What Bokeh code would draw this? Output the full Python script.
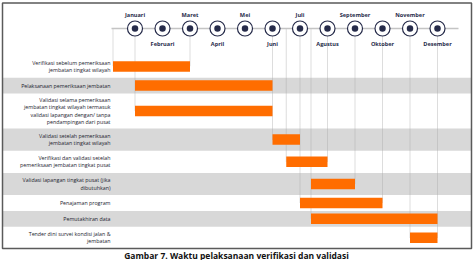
from bokeh.plotting import figure
from bokeh.models import Range1d
from bokeh.core.properties import value
from bokeh.embed import file_html
from bokeh.resources import INLINE

# ---------------- data ----------------
months = ["Januari", "Februari", "Maret", "April", "Mei", "Juni",
          "Juli", "Agustus", "September", "Oktober", "November", "Desember"]
activities = [
    "Verifikasi sebelum pemeriksaan\njembatan tingkat wilayah",
    "Pelaksanaan pemeriksaan jembatan",
    "Validasi selama pemeriksaan\njembatan tingkat wilayah termasuk\nvalidasi lapangan dengan/ tanpa\npendampingan dari pusat",
    "Validasi setelah pemeriksaan\njembatan tingkat wilayah",
    "Verifikasi dan validasi setelah\npemeriksaan jembatan tingkat pusat",
    "Validasi lapangan tingkat pusat (jika\ndibutuhkan)",
    "Penajaman program",
    "Pemutakhiran data",
    "Tender dini survei kondisi jalan &\njembatan",
]
start_month = [0.2, 1, 1, 6, 6.5, 7.4, 7, 7.4, 11]
end_month = [3, 6, 6, 7, 8, 9, 10, 12, 12]
caption = "Gambar 7. Waktu pelaksanaan verifikasi dan validasi"

# ---------------- layout ----------------
W, H = 474, 260
JAN_PX, STEP = 134.5, 27.5
x0 = 1 - JAN_PX / STEP
x1 = x0 + W / STEP


def px(xp):
    return x0 + xp / STEP


TIMELINE_Y = 28
ROWS_TOP = 55
LINE_H = 6.4
BAR_H = 10.5
ORANGE = "#ff6d00"
NAVY = "#262b4a"
BAND = "#d8d8d8"

p = figure(width=W, height=H, output_backend="svg", toolbar_location=None,
           x_range=Range1d(x0, x1), y_range=Range1d(H, 0),
           min_border=0, min_border_left=0, min_border_right=0,
           min_border_top=0, min_border_bottom=0)
p.axis.visible = False
p.grid.visible = False
p.outline_line_color = None
p.background_fill_color = "white"
p.border_fill_color = "white"

# row geometry from number of label lines
lines = [a.split("\n") for a in activities]
tops, bottoms, centers = [], [], []
y = ROWS_TOP
for ls in lines:
    h = 9.4 + LINE_H * len(ls)
    tops.append(y)
    bottoms.append(y + h)
    centers.append(y + h / 2)
    y += h

# alternating grey bands
bi = [i for i in range(len(activities)) if i % 2 == 1]
p.quad(left=[px(2)] * len(bi), right=[px(471)] * len(bi),
       top=[tops[i] for i in bi], bottom=[bottoms[i] for i in bi],
       fill_color=BAND, line_color=None)

# dotted guide lines from timeline down to the lowest bar using each boundary
deepest = {}
for i, (s, e) in enumerate(zip(start_month, end_month)):
    for b in (s, e):
        deepest[b] = max(deepest.get(b, -1), i)
gx = list(deepest.keys())
gy = [centers[deepest[b]] for b in gx]
p.segment(x0=gx, y0=[TIMELINE_Y] * len(gx), x1=gx, y1=gy,
          line_color="#a8a8a8", line_width=0.8, line_dash="1 1")

# timeline
p.line(x=[px(111), px(458)], y=[TIMELINE_Y, TIMELINE_Y],
       line_color="#c4c4c4", line_width=1.5)
mx = list(range(1, 13))
p.scatter(x=mx, y=[TIMELINE_Y] * 12, size=15, fill_color="white",
          line_color=NAVY, line_width=1.2)
p.scatter(x=mx, y=[TIMELINE_Y] * 12, size=6.5, fill_color=NAVY, line_color=None)

# month labels (alternating above/below)
p.text(x=mx[0::2], y=[TIMELINE_Y - 14] * 6, text=months[0::2],
       text_font=value("Open Sans"), text_font_style="bold",
       text_font_size="5.6px", text_color=NAVY,
       text_align="center", text_baseline="middle")
p.text(x=mx[1::2], y=[TIMELINE_Y + 15] * 6, text=months[1::2],
       text_font=value("Open Sans"), text_font_style="bold",
       text_font_size="5.6px", text_color=NAVY,
       text_align="center", text_baseline="middle")

# bars
p.hbar(y=centers, left=start_month, right=end_month, height=BAR_H,
       fill_color=ORANGE, line_color=None)

# activity labels, right aligned
lx, ly, lt = [], [], []
for c, ls in zip(centers, lines):
    n = len(ls)
    for k, t in enumerate(ls):
        lx.append(px(110))
        ly.append(c + (k - (n - 1) / 2) * 7.2)
        lt.append(t)
p.text(x=lx, y=ly, text=lt, text_font=value("Open Sans"),
       text_font_size="5.3px", text_color="#22222e",
       text_align="right", text_baseline="middle")

# frame border
p.quad(left=[px(2)], right=[px(471)], top=[2.5], bottom=[248],
       fill_color=None, line_color="#5a5a5a", line_width=1.5)

# caption below the frame
p.text(x=[px(236)], y=[254.5], text=[caption], text_font=value("Open Sans"),
       text_font_style="bold", text_font_size="8.5px", text_color="#111111",
       text_align="center", text_baseline="middle")

open("out.html", "w").write(file_html(p, INLINE))
